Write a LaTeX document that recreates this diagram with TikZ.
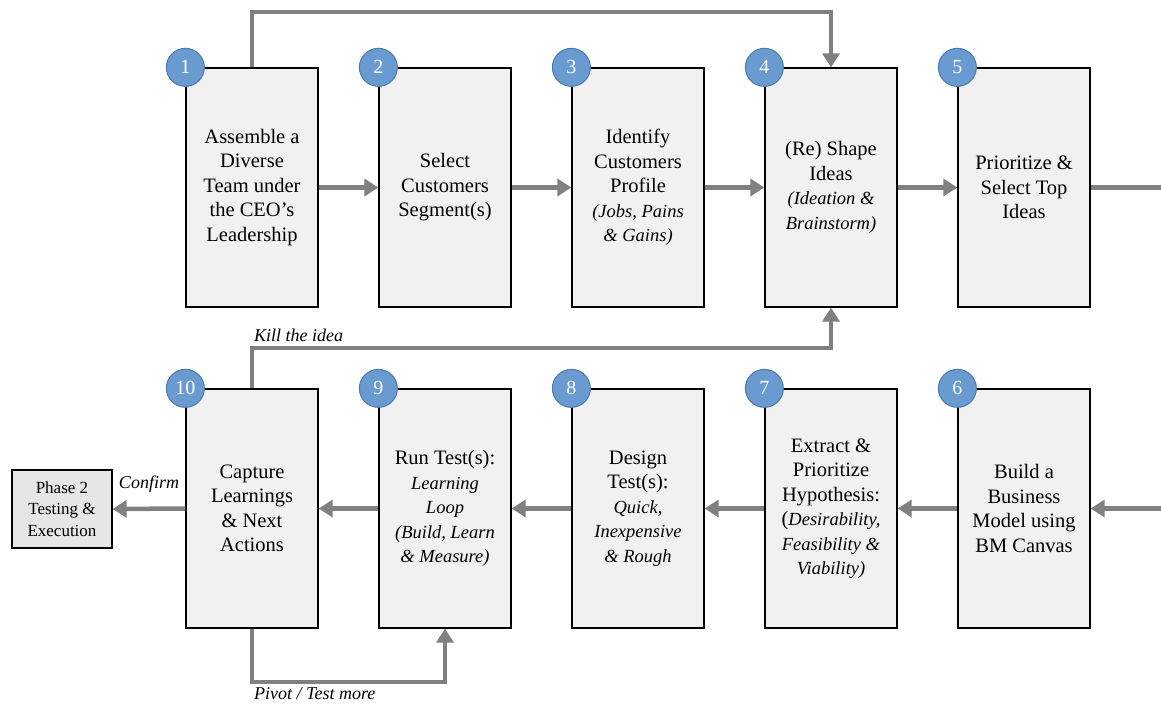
\documentclass[tikz,border=0pt]{standalone}
\usepackage{fontspec}
\setmainfont{Liberation Serif}
\usetikzlibrary{arrows.meta}

\definecolor{boxfill}{HTML}{F1F1F1}
\definecolor{phasefill}{HTML}{E6E6E6}
\definecolor{flowgray}{HTML}{808080}
\definecolor{badgefill}{HTML}{6A9BD0}
\definecolor{badgeline}{HTML}{4C7BAF}

% text sizes: step titles and italic remarks
\newcommand{\stepsz}{\fontsize{20.5}{24.5}\selectfont}
\newcommand{\remark}[1]{{\fontsize{18.5}{24.5}\selectfont\itshape #1}}

\begin{document}
\begin{tikzpicture}[x=1pt,y=-1pt,
  stepbox/.style={draw=black, line width=1.3pt, fill=boxfill,
    minimum width=132pt, minimum height=239pt, inner sep=2pt,
    align=center, font=\stepsz},
  phasebox/.style={draw=black, line width=1.3pt, fill=phasefill,
    minimum width=100pt, minimum height=78pt, inner sep=2pt,
    align=center, font=\fontsize{17}{21.5}\selectfont},
  badge/.style={circle, fill=badgefill, draw=badgeline, line width=1pt,
    minimum size=38pt, inner sep=0pt, text=white,
    font=\fontsize{20}{20}\selectfont},
  flowline/.style={draw=flowgray, line width=4.5pt},
  flow/.style={flowline, -{Triangle[length=14pt,width=17pt]}},
  note/.style={font=\fontsize{18}{20}\selectfont\itshape, inner sep=0pt}]

\useasboundingbox (0,0) rectangle (1161,704);

% ---- top row: steps 1 to 5
\node[stepbox] (b1) at (252,187.5) {Assemble a\\Diverse\\Team under\\the CEO’s\\Leadership};
\node[stepbox] (b2) at (445,187.5) {Select\\Customers\\Segment(s)};
\node[stepbox] (b3) at (638,187.5) {Identify\\Customers\\Profile\\\remark{(Jobs, Pains}\\\remark{\& Gains)}};
\node[stepbox] (b4) at (831,187.5) {(Re) Shape\\Ideas\\\remark{(Ideation \&}\\\remark{Brainstorm)}};
\node[stepbox] (b5) at (1024,187.5) {Prioritize \&\\Select Top\\Ideas};

% ---- bottom row: steps 6 to 10
\node[stepbox] (b6) at (1024,508.5) {Build a\\Business\\Model using\\BM Canvas};
\node[stepbox] (b7) at (831,508.5) {Extract \&\\Prioritize\\Hypothesis:\\(\remark{Desirability,}\\\remark{Feasibility \&}\\\remark{Viability)}};
\node[stepbox] (b8) at (638,508.5) {Design\\Test(s):\\\remark{Quick,}\\\remark{Inexpensive}\\\remark{\& Rough}};
\node[stepbox] (b9) at (445,508.5) {Run Test(s):\\\remark{Learning}\\\remark{Loop}\\\remark{(Build, Learn}\\\remark{\& Measure)}};
\node[stepbox] (b10) at (252,508.5) {Capture\\Learnings\\\& Next\\Actions};

% ---- next phase
\node[phasebox] (p2) at (62,509) {Phase 2\\Testing \&\\Execution};

% ---- helper points for the loops and the wrap-around
\coordinate (loopy) at (540,12);
\coordinate (killy) at (540,348);
\coordinate (pivy) at (350,682);
\coordinate (rtop) at (1161,187.5);
\coordinate (rbot) at (1161,508.5);

% ---- main flow
\draw[flow] (b1.east) -- (b2.west);
\draw[flow] (b2.east) -- (b3.west);
\draw[flow] (b3.east) -- (b4.west);
\draw[flow] (b4.east) -- (b5.west);
\draw[flowline] (b5.east) -- (rtop);
\draw[flow] (rbot) -- (b6.east);
\draw[flow] (b6.west) -- (b7.east);
\draw[flow] (b7.west) -- (b8.east);
\draw[flow] (b8.west) -- (b9.east);
\draw[flow] (b9.west) -- (b10.east);
\draw[flow] (b10.west) -- node[note, above=14pt] {Confirm} (p2.east);

% ---- loops
\draw[flow] (b1.north) |- (loopy) -| (b4.north);
\draw[flow] (b10.north) |- (killy) -| (b4.south);
\draw[flow] (b10.south) |- (pivy) -| (b9.south);

\coordinate (kc) at (b10.north |- killy);
\coordinate (pc) at (b10.south |- pivy);
\node[note, anchor=base west] (killlbl) at ([shift={(2pt,7pt)}]kc) {Kill the idea};
\node[note, anchor=north west] (pivlbl) at ([shift={(2pt,-5pt)}]pc) {Pivot / Test more};

% ---- step numbers
\foreach \i in {1,...,10} {
  \node[badge] (c\i) at (b\i.north west) {\i};
}
\end{tikzpicture}
\end{document}
